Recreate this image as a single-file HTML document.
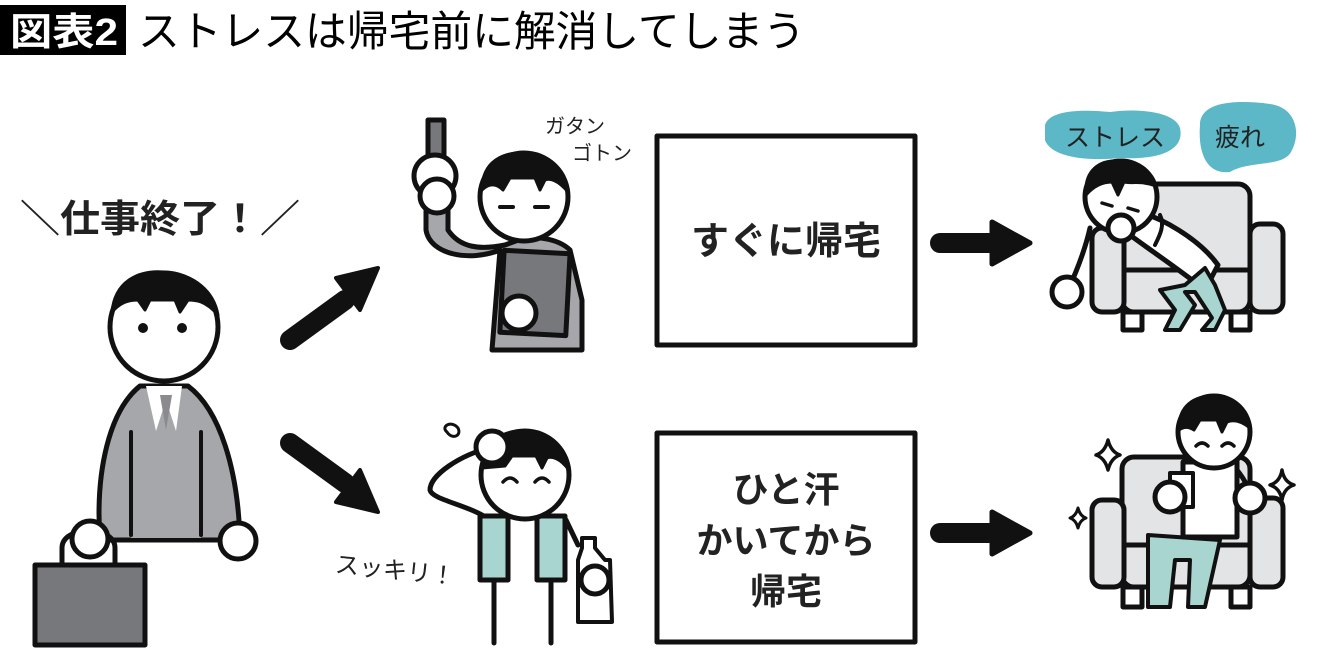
<!DOCTYPE html>
<html><head><meta charset="utf-8">
<style>
html,body{margin:0;padding:0;background:#fff;}
svg{display:block;}
text{font-family:"Liberation Sans","Noto Sans CJK JP",sans-serif;}
</style></head>
<body>
<svg width="1340" height="664" viewBox="0 0 1340 664" xmlns="http://www.w3.org/2000/svg">
<!-- Title -->
<rect x="0" y="5" width="126" height="50" fill="#000"/>
<text x="10" y="45" font-size="38" font-weight="bold" fill="#fff" textLength="108" lengthAdjust="spacingAndGlyphs">図表2</text>
<text x="138" y="46" font-size="42" fill="#000" textLength="667" lengthAdjust="spacingAndGlyphs">ストレスは帰宅前に解消してしまう</text>

<g stroke="#111" stroke-width="5" stroke-linecap="round" stroke-linejoin="round">
<!-- Left man -->
<text x="20" y="232" font-size="38" font-weight="bold" fill="#222" stroke="none" textLength="280" lengthAdjust="spacingAndGlyphs">＼仕事終了！／</text>
<path d="M100 540 C95 470 110 410 140 386 L188 386 C220 410 238 470 240 540 Z" fill="#a6a7aa"/>
<rect x="131" y="430" width="70" height="108" fill="#a6a7aa" stroke="none"/>
<line x1="131" y1="432" x2="131" y2="535" stroke-width="4"/>
<line x1="201" y1="432" x2="201" y2="535" stroke-width="4"/>
<path d="M146 386 L156 431 L166 400 L176 431 L182 386 Z" fill="#fff" stroke="none"/>
<path d="M160 395 L166 430 L172 395 Z" fill="#8a8b8e" stroke="none"/>
<circle cx="164" cy="327" r="54" fill="#fff"/>
<path d="M112 312 C115 280 140 270 164 272 C195 274 214 292 218 315 C205 300 195 300 188 300 L180 312 L175 300 L150 300 L145 310 L138 300 C125 300 118 305 112 312 Z" fill="#111" stroke-width="3"/>
<circle cx="143" cy="328" r="5" fill="#111" stroke="none"/>
<circle cx="182" cy="328" r="5" fill="#111" stroke="none"/>
<path d="M62 568 L62 548 C62 525 115 525 115 548 L115 568" fill="none"/>
<rect x="35" y="565" width="110" height="80" fill="#77787b"/>
<circle cx="90" cy="539" r="18" fill="#fff"/>
<circle cx="238" cy="541" r="18" fill="#fff"/>

<!-- Arrows -->
<path d="M290 340 L345 300" stroke-width="20" stroke-linecap="round"/>
<path d="M378 268 L336 278 L360 310 Z" fill="#111" stroke-width="4"/>
<path d="M290 443 L345 483" stroke-width="20" stroke-linecap="round"/>
<path d="M378 512 L336 502 L360 470 Z" fill="#111" stroke-width="4"/>

<!-- Commuter -->
<rect x="428" y="120" width="16" height="48" fill="#77787b"/>
<circle cx="435" cy="176" r="21" fill="#fff"/>
<path d="M426 200 L426 230 C430 255 470 262 500 250 L492 350 L582 350 L582 300 L570 250 C560 240 540 236 524 238 L505 245 C480 250 460 248 448 230 L448 200 Z" fill="#a6a7aa"/>
<rect x="502" y="252" width="66" height="82" fill="#77787b" transform="rotate(3 535 292)"/>
<circle cx="437" cy="196" r="17" fill="#fff"/>
<circle cx="524" cy="197" r="44" fill="#fff"/>
<path d="M482 190 C482 160 505 152 524 153 C548 154 566 168 568 192 C558 180 550 178 545 180 L540 190 L535 178 L510 178 L503 190 C495 182 488 184 482 190 Z" fill="#111" stroke-width="3"/>
<line x1="500" y1="207" x2="513" y2="207" stroke-width="4"/>
<line x1="535" y1="207" x2="548" y2="207" stroke-width="4"/>
<circle cx="519" cy="313" r="17" fill="#fff"/>
<text x="545" y="133" font-size="20" fill="#222" stroke="none">ガタン</text>
<text x="572" y="160" font-size="20" fill="#222" stroke="none">ゴトン</text>

<!-- Runner -->
<path d="M447 432 C440 426 452 420 458 428 C462 436 452 440 447 432 Z" fill="#fff" stroke-width="3"/>
<path d="M492 447 C460 455 430 475 430 490 C432 500 470 505 490 520" fill="none"/>
<line x1="494" y1="580" x2="494" y2="643"/>
<line x1="551" y1="580" x2="551" y2="643"/>
<path d="M566 520 L578 545" fill="none"/>
<rect x="480" y="516" width="28" height="64" fill="#a8d5cf"/>
<rect x="537" y="516" width="28" height="64" fill="#a8d5cf"/>
<circle cx="525" cy="475" r="44" fill="#fff"/>
<path d="M482 468 C482 440 505 430 525 431 C550 432 567 448 569 470 C560 458 552 456 547 458 L542 468 L536 456 L512 456 L505 466 Z" fill="#111" stroke-width="3"/>
<path d="M503 482 Q510 474 517 482" fill="none" stroke-width="3.5"/>
<path d="M535 482 Q542 474 549 482" fill="none" stroke-width="3.5"/>
<circle cx="492" cy="447" r="16" fill="#fff"/>
<path d="M582 538 L595 538 L595 548 L605 560 L610 560 L612 622 L578 622 L578 560 L582 548 Z" fill="#fff" stroke-width="4"/>
<circle cx="595" cy="580" r="14" fill="#fff"/>
<text x="335" y="578" font-size="24" fill="#222" stroke="none" transform="rotate(6 390 570)">スッキリ！</text>

<!-- Boxes -->
<rect x="657" y="136" width="258" height="209" fill="#fff" stroke-width="5" stroke-linecap="butt"/>
<text x="786" y="254" font-size="38" font-weight="bold" fill="#222" stroke="none" text-anchor="middle">すぐに帰宅</text>
<rect x="657" y="433" width="258" height="209" fill="#fff" stroke-width="5" stroke-linecap="butt"/>
<text x="786" y="502" font-size="36" font-weight="bold" fill="#222" stroke="none" text-anchor="middle">ひと汗</text>
<text x="786" y="553" font-size="36" font-weight="bold" fill="#222" stroke="none" text-anchor="middle">かいてから</text>
<text x="786" y="604" font-size="36" font-weight="bold" fill="#222" stroke="none" text-anchor="middle">帰宅</text>

<!-- Right arrows -->
<line x1="940" y1="243" x2="995" y2="243" stroke-width="20"/>
<path d="M1030 243 L992 222 L992 264 Z" fill="#111" stroke-width="5"/>
<line x1="940" y1="533" x2="995" y2="533" stroke-width="20"/>
<path d="M1030 533 L992 512 L992 554 Z" fill="#111" stroke-width="5"/>

<!-- Clouds top -->
<path d="M1045 125 C1050 108 1090 110 1110 112 C1140 108 1175 112 1180 128 C1185 150 1160 160 1120 158 C1080 162 1050 155 1045 140 Z" fill="#5cb7c7" stroke="none"/>
<text x="1065" y="146" font-size="25" fill="#222" stroke="none">ストレス</text>
<path d="M1200 125 C1200 100 1240 100 1270 104 C1298 108 1300 135 1292 150 C1285 168 1250 160 1230 172 C1205 175 1198 150 1200 125 Z" fill="#5cb7c7" stroke="none"/>
<text x="1215" y="146" font-size="25" fill="#222" stroke="none">疲れ</text>

<!-- Sofa top -->
<rect x="1123" y="312" width="19" height="18" fill="#fff"/>
<rect x="1231" y="312" width="19" height="18" fill="#fff"/>
<rect x="1122" y="184" width="128" height="128" rx="12" fill="#e3e4e6"/>
<line x1="1123" y1="270" x2="1250" y2="270"/>
<rect x="1092" y="228" width="32" height="84" rx="10" fill="#e3e4e6"/>
<rect x="1250" y="224" width="33" height="88" rx="10" fill="#e3e4e6"/>
<!-- Person top -->
<path d="M1090 228 C1085 250 1075 275 1067 292" fill="none"/>
<path d="M1130 210 C1160 215 1200 240 1218 265 L1205 290 C1180 270 1150 250 1130 235 Z" fill="#fff"/>
<path d="M1205 268 L1185 285 L1160 290 L1175 310 L1165 330 L1180 330 L1195 305 L1185 292 L1195 292 L1212 318 L1202 330 L1215 330 L1225 310 L1215 285 Z" fill="#a8d5cf" stroke-width="4"/>
<circle cx="1121" cy="197" r="36" fill="#fff"/>
<path d="M1086 195 C1084 170 1100 160 1118 161 C1138 162 1152 172 1156 186 C1140 180 1130 184 1124 182 L1118 195 L1112 182 C1100 182 1092 188 1086 195 Z" fill="#111" stroke-width="3"/>
<line x1="1102" y1="203" x2="1112" y2="206" stroke-width="3.5"/>
<line x1="1128" y1="208" x2="1138" y2="211" stroke-width="3.5"/>
<path d="M1160 215 C1165 225 1160 235 1155 245" fill="none" stroke-width="4"/>
<circle cx="1121" cy="228" r="13" fill="#fff"/>
<circle cx="1067" cy="292" r="15" fill="#fff"/>

<!-- Sparkles -->
<path d="M1108 440 Q1111 452 1120 455 Q1111 458 1108 470 Q1105 458 1096 455 Q1105 452 1108 440 Z" fill="#fff" stroke-width="3.5"/>
<path d="M1078 508 Q1080 516 1086 518 Q1080 520 1078 528 Q1076 520 1070 518 Q1076 516 1078 508 Z" fill="#fff" stroke-width="3"/>
<path d="M1282 470 Q1284 482 1294 485 Q1284 488 1282 500 Q1280 488 1270 485 Q1280 482 1282 470 Z" fill="#fff" stroke-width="3.5"/>

<!-- Sofa bottom -->
<rect x="1123" y="587" width="19" height="20" fill="#fff"/>
<rect x="1231" y="587" width="19" height="20" fill="#fff"/>
<rect x="1122" y="457" width="128" height="130" rx="12" fill="#e3e4e6"/>
<line x1="1123" y1="545" x2="1250" y2="545"/>
<rect x="1092" y="500" width="32" height="87" rx="10" fill="#e3e4e6"/>
<rect x="1250" y="498" width="33" height="89" rx="10" fill="#e3e4e6"/>
<!-- Person bottom -->
<path d="M1148 535 L1148 607 L1170 607 L1175 560 L1190 560 L1188 607 L1205 607 L1220 540 Z" fill="#a8d5cf" stroke-width="4"/>
<path d="M1183 462 L1237 462 L1237 537 L1183 537 Z" fill="#fff"/>
<path d="M1237 470 C1245 480 1250 490 1250 498" fill="none"/>
<rect x="1170" y="473" width="23" height="34" fill="#fff" stroke-width="4"/>
<circle cx="1214" cy="432" r="36" fill="#fff"/>
<path d="M1179 430 C1178 405 1195 396 1213 396 C1233 397 1248 410 1250 428 C1240 420 1232 420 1227 422 L1222 432 L1217 420 L1200 420 L1194 430 C1188 426 1183 427 1179 430 Z" fill="#111" stroke-width="3"/>
<path d="M1196 446 Q1202 440 1208 446" fill="none" stroke-width="3.5"/>
<path d="M1222 446 Q1228 440 1234 446" fill="none" stroke-width="3.5"/>
<circle cx="1170" cy="497" r="15" fill="#fff"/>
<circle cx="1250" cy="498" r="15" fill="#fff"/>
</g>
</svg>
</body></html>
